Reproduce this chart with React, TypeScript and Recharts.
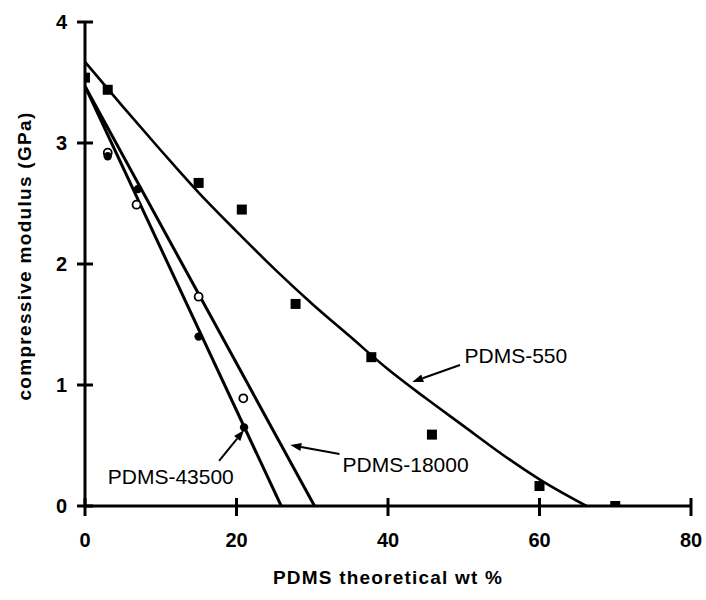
import {
  ComposedChart,
  Line,
  Scatter,
  XAxis,
  YAxis,
  ReferenceLine,
  ReferenceDot,
} from "recharts";

// measured points (PDMS theoretical wt %, compressive modulus GPa)
const PDMS_550_POINTS = [
  { x: 0, y: 3.54 },
  { x: 3, y: 3.44 },
  { x: 15, y: 2.67 },
  { x: 20.7, y: 2.45 },
  { x: 27.8, y: 1.67 },
  { x: 37.8, y: 1.23 },
  { x: 45.8, y: 0.59 },
  { x: 60, y: 0.165 },
  { x: 70, y: 0 },
];

const PDMS_18000_POINTS = [
  { x: 3, y: 2.92 },
  { x: 6.8, y: 2.49 },
  { x: 15, y: 1.73 },
  { x: 20.9, y: 0.89 },
];

const PDMS_43500_POINTS = [
  { x: 3, y: 2.89 },
  { x: 7, y: 2.62 },
  { x: 15, y: 1.4 },
  { x: 21, y: 0.65 },
];

// fitted curves
const PDMS_550_FIT = [
  { x: 0, y: 3.67 },
  { x: 5, y: 3.3 },
  { x: 10, y: 2.94 },
  { x: 15, y: 2.59 },
  { x: 20, y: 2.27 },
  { x: 25, y: 1.96 },
  { x: 30, y: 1.67 },
  { x: 35, y: 1.4 },
  { x: 40, y: 1.13 },
  { x: 45, y: 0.89 },
  { x: 50, y: 0.66 },
  { x: 55, y: 0.43 },
  { x: 60, y: 0.22 },
  { x: 66.2, y: 0 },
];

const PDMS_18000_FIT = [
  { x: 0, y: 3.47 },
  { x: 30.3, y: 0 },
];

const PDMS_43500_FIT = [
  { x: 0, y: 3.47 },
  { x: 25.9, y: 0 },
];

const X_TICKS = [0, 20, 40, 60, 80];
const Y_TICKS = [0, 1, 2, 3, 4];

// callouts in data units: label anchor, arrow tail, arrow tip
const ANNOTATIONS = [
  { label: "PDMS-550", tx: 50.1, ty: 1.24, x1: 49.5, y1: 1.165, x2: 43.2, y2: 1.025 },
  { label: "PDMS-18000", tx: 34.0, ty: 0.34, x1: 33.6, y1: 0.43, x2: 27.1, y2: 0.504 },
  { label: "PDMS-43500", tx: 3.0, ty: 0.24, x1: 17.7, y1: 0.372, x2: 21.0, y2: 0.628 },
];

const FONT = "'Liberation Sans', Arial, sans-serif";
const INK = "#000";

function XTick({ x, y, payload }: any) {
  return (
    <g>
      <line x1={x} y1={y - 8} x2={x} y2={y + 10} stroke={INK} strokeWidth={3} />
      <text x={x} y={y + 41} textAnchor="middle" fontSize={20} fontWeight="bold" fontFamily={FONT} fill={INK}>
        {payload.value}
      </text>
    </g>
  );
}

function YTick({ x, y, payload }: any) {
  return (
    <g>
      <line x1={x - 8} y1={y} x2={x + 8} y2={y} stroke={INK} strokeWidth={3} />
      <text x={x - 18} y={y + 7} textAnchor="end" fontSize={20} fontWeight="bold" fontFamily={FONT} fill={INK}>
        {payload.value}
      </text>
    </g>
  );
}

function Arrow(props: any) {
  const { x1, y1, x2, y2 } = props;
  const ang = Math.atan2(y2 - y1, x2 - x1);
  const len = 11;
  const half = 4;
  const bx = x2 - len * Math.cos(ang);
  const by = y2 - len * Math.sin(ang);
  const px = -Math.sin(ang) * half;
  const py = Math.cos(ang) * half;
  return (
    <g>
      <line x1={x1} y1={y1} x2={bx} y2={by} stroke={INK} strokeWidth={2} />
      <polygon points={`${x2},${y2} ${bx + px},${by + py} ${bx - px},${by - py}`} fill={INK} />
    </g>
  );
}

const square = ({ cx, cy }: any) => <rect x={cx - 5} y={cy - 5} width={10} height={10} fill={INK} />;
const openCircle = ({ cx, cy }: any) => <circle cx={cx} cy={cy} r={4} fill="#fff" stroke={INK} strokeWidth={1.8} />;
const dot = ({ cx, cy }: any) => <circle cx={cx} cy={cy} r={4.2} fill={INK} />;

export default function App() {
  return (
    <div style={{ position: "absolute", left: 0, top: 0, width: 706, height: 600, background: "#fff" }}>
      <ComposedChart width={706} height={600} margin={{ top: 22, right: 15, bottom: 0, left: 0 }} style={{ overflow: "visible" }}>
        <XAxis
          type="number"
          dataKey="x"
          domain={[0, 80]}
          ticks={X_TICKS}
          allowDataOverflow
          height={94}
          tickSize={0}
          tickMargin={0}
          tickLine={false}
          axisLine={{ stroke: INK, strokeWidth: 3 }}
          tick={<XTick />}
          label={{
            content: ({ viewBox }: any) => (
              <text
                x={viewBox.x + viewBox.width / 2}
                y={viewBox.y + 78}
                textAnchor="middle"
                fontSize={19}
                fontWeight="bold"
                fontFamily={FONT}
                letterSpacing={1.2}
                fill={INK}
              >
                PDMS theoretical wt %
              </text>
            ),
          }}
        />
        <YAxis
          type="number"
          dataKey="y"
          domain={[0, 4]}
          ticks={Y_TICKS}
          allowDataOverflow
          width={85}
          tickSize={0}
          tickMargin={0}
          tickLine={false}
          axisLine={{ stroke: INK, strokeWidth: 3 }}
          tick={<YTick />}
          label={{
            content: ({ viewBox }: any) => {
              const cx = viewBox.x + 31;
              const cy = viewBox.y + viewBox.height / 2 - 8;
              return (
                <text
                  x={cx}
                  y={cy}
                  transform={`rotate(-90 ${cx} ${cy})`}
                  textAnchor="middle"
                  fontSize={19}
                  fontWeight="bold"
                  fontFamily={FONT}
                  letterSpacing={1.3}
                  fill={INK}
                >
                  compressive modulus (GPa)
                </text>
              );
            },
          }}
        />

        <Line data={PDMS_550_FIT} dataKey="y" type="monotone" stroke={INK} strokeWidth={2.6} dot={false} activeDot={false} isAnimationActive={false} />
        <Line data={PDMS_18000_FIT} dataKey="y" type="linear" stroke={INK} strokeWidth={3} dot={false} activeDot={false} isAnimationActive={false} />
        <Line data={PDMS_43500_FIT} dataKey="y" type="linear" stroke={INK} strokeWidth={3} dot={false} activeDot={false} isAnimationActive={false} />

        <Scatter data={PDMS_550_POINTS} dataKey="y" shape={square} isAnimationActive={false} />
        <Scatter data={PDMS_18000_POINTS} dataKey="y" shape={openCircle} isAnimationActive={false} />
        <Scatter data={PDMS_43500_POINTS} dataKey="y" shape={dot} isAnimationActive={false} />

        {ANNOTATIONS.map((a) => (
          <ReferenceLine
            key={`arrow-${a.label}`}
            segment={[{ x: a.x1, y: a.y1 }, { x: a.x2, y: a.y2 }]}
            shape={<Arrow />}
            ifOverflow="visible"
          />
        ))}
        {ANNOTATIONS.map((a) => (
          <ReferenceDot
            key={`label-${a.label}`}
            x={a.tx}
            y={a.ty}
            r={0}
            ifOverflow="visible"
            shape={({ cx, cy }: any) => (
              <text x={cx} y={cy + 7} fontSize={21} fontFamily={FONT} fill={INK}>
                {a.label}
              </text>
            )}
          />
        ))}
      </ComposedChart>
    </div>
  );
}
